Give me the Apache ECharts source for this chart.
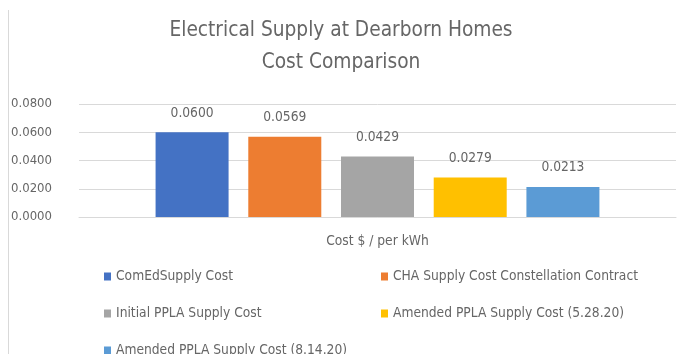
<!DOCTYPE html>
<html>
<head>
<meta charset="utf-8">
<script src="https://cdn.jsdelivr.net/npm/echarts@6/dist/echarts.min.js"></script>
<style>
  html, body { margin: 0; padding: 0; background: #fff; }
  #chart { width: 682px; height: 354px; }
</style>
</head>
<body>
<div id="chart"></div>
<script>
// Supply cost per kWh for each contract option
const categories = ['Cost $ / per kWh'];
const seriesNames = [
  'ComEdSupply Cost',
  'CHA Supply Cost Constellation Contract',
  'Initial PPLA Supply Cost',
  'Amended PPLA Supply Cost (5.28.20)',
  'Amended PPLA Supply Cost (8.14.20)'
];
const seriesValues = [0.0600, 0.0569, 0.0429, 0.0279, 0.0213];
const seriesColors = ['#4472C4', '#ED7D31', '#A5A5A5', '#FFC000', '#5B9BD5'];
const yTicks = [0, 0.02, 0.04, 0.06, 0.08];

const FONT = '"Liberation Sans Narrow", "DejaVu Sans Condensed", sans-serif';
const TEXT = '#666666';

const chart = echarts.init(document.getElementById('chart'), null, { renderer: 'canvas' });

chart.setOption({
  animation: false,
  backgroundColor: '#fff',
  textStyle: { fontFamily: FONT },
  title: {
    text: 'Electrical Supply at Dearborn Homes\nCost Comparison',
    left: 'center',
    top: 15,
    padding: 0,
    textStyle: { fontFamily: FONT, fontSize: 20.7, fontWeight: 'normal', color: TEXT, lineHeight: 32 }
  },
  graphic: [{
    type: 'line',
    shape: { x1: 8.5, y1: 10, x2: 8.5, y2: 354 },
    style: { stroke: '#d9d9d9', lineWidth: 1 }
  }],
  legend: {
    left: 104,
    top: 268,
    width: 580,
    padding: 0,
    itemWidth: 7,
    itemHeight: 8,
    itemGap: 20,
    icon: 'rect',
    data: seriesNames,
    textStyle: { fontFamily: FONT, fontSize: 13.7, color: TEXT, width: 245, lineHeight: 17 }
  },
  grid: { left: 79, right: 6, top: 104, bottom: 137, containLabel: false },
  xAxis: {
    type: 'category',
    data: categories,
    axisLine: { lineStyle: { color: '#d9d9d9', width: 1 } },
    axisTick: { show: false },
    axisLabel: { color: TEXT, fontFamily: FONT, fontSize: 13.7, margin: 17 }
  },
  yAxis: {
    type: 'value',
    min: yTicks[0],
    max: yTicks[yTicks.length - 1],
    interval: yTicks[1] - yTicks[0],
    axisLine: { show: false },
    axisTick: { show: false },
    splitLine: { lineStyle: { color: '#d9d9d9', width: 1 } },
    axisLabel: {
      color: TEXT, fontFamily: FONT, fontSize: 13, margin: 27,
      formatter: v => v.toFixed(4)
    }
  },
  series: seriesNames.map((name, i) => ({
    name,
    type: 'bar',
    data: [seriesValues[i]],
    barWidth: 73,
    barGap: '27%',
    itemStyle: { color: seriesColors[i] },
    label: {
      show: true,
      position: 'top',
      distance: 12,
      color: TEXT,
      fontFamily: FONT,
      fontSize: 13.7,
      formatter: p => p.value.toFixed(4)
    }
  }))
});
</script>
</body>
</html>
